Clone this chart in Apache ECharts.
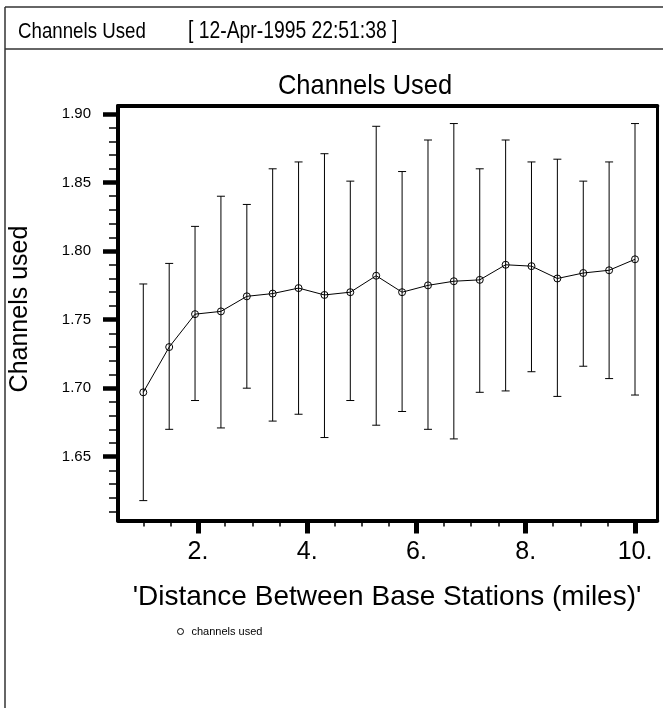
<!DOCTYPE html>
<html><head><meta charset="utf-8">
<script src="https://cdn.jsdelivr.net/npm/echarts@6/dist/echarts.min.js"></script>
<style>html,body{margin:0;padding:0;background:#fff}#c{width:663px;height:708px}</style>
</head><body><div id="c"></div>
<script>
const distance = [1.000,1.474,1.947,2.421,2.895,3.368,3.842,4.316,4.789,5.263,5.737,6.211,6.684,7.158,7.632,8.105,8.579,9.053,9.526,10.000];
const channelsUsed = [1.697,1.730,1.754,1.756,1.767,1.769,1.773,1.768,1.770,1.782,1.770,1.775,1.778,1.779,1.790,1.789,1.780,1.784,1.786,1.794];
const errUpper = [1.776,1.791,1.818,1.840,1.834,1.860,1.865,1.871,1.851,1.891,1.858,1.881,1.893,1.860,1.881,1.865,1.867,1.851,1.865,1.893];
const errLower = [1.618,1.670,1.691,1.671,1.700,1.676,1.681,1.664,1.691,1.673,1.683,1.670,1.663,1.697,1.698,1.712,1.694,1.716,1.707,1.695];
const xMajorTicks = [2,4,6,8,10];
const xMinorTicks = [1,1.5,2.5,3,3.5,4.5,5,5.5,6.5,7,7.5,8.5,9,9.5];
const yMajorTicks = [1.65,1.70,1.75,1.80,1.85,1.90];
const yMinorTicks = [1.61,1.62,1.63,1.64,1.66,1.67,1.68,1.69,1.71,1.72,1.73,1.74,1.76,1.77,1.78,1.79,1.81,1.82,1.83,1.84,1.86,1.87,1.88,1.89];
const seriesName = 'channels used';
const headerText = 'Channels Used';
const dateText = '[ 12-Apr-1995 22:51:38 ]';
const titleText = 'Channels Used';
const xTitle = "'Distance Between Base Stations (miles)'";
const yTitle = 'Channels used';

const REG = "'Liberation Sans', Arial, sans-serif";
const X_MIN = 0.537, X_MAX = 10.408, Y_MIN = 1.6035, Y_MAX = 1.9058;

const chart = echarts.init(document.getElementById('c'), null, {renderer: 'canvas'});

const points = distance.map((x, i) => [x, channelsUsed[i]]);
const bars = distance.map((x, i) => [x, errLower[i], errUpper[i]]);

function txt(x, y, text, size, align, rot, sx) {
  return {type: 'text', x: x, y: y, rotation: rot || 0, scaleX: sx || 1, silent: true,
    style: {text: text, fontSize: size, fontFamily: REG, fill: '#000',
      align: align, textAlign: align, verticalAlign: 'middle', textVerticalAlign: 'middle'}};
}
function ln(x1, y1, x2, y2, w) {
  return {type: 'line', silent: true, shape: {x1, y1, x2, y2}, style: {stroke: '#333', lineWidth: w}};
}

const baseAxis = {type: 'value', splitLine: {show: false}};

chart.setOption({
  animation: false,
  backgroundColor: '#fff',
  grid: {left: 118, top: 106, width: 539.3, height: 414.5, containLabel: false},
  xAxis: [
    Object.assign({}, baseAxis, {position: 'bottom', min: X_MIN, max: X_MAX,
      axisLine: {show: true, lineStyle: {color: '#000', width: 4}},
      axisTick: {show: true, customValues: xMajorTicks, length: 13, lineStyle: {color: '#000', width: 5}},
      axisLabel: {show: true, customValues: xMajorTicks, formatter: v => v + '.', fontSize: 25, fontFamily: REG, color: '#000', margin: 19}}),
    Object.assign({}, baseAxis, {position: 'bottom', min: X_MIN, max: X_MAX,
      axisLine: {show: false},
      axisTick: {show: true, customValues: xMinorTicks, length: 6, lineStyle: {color: '#000', width: 1.5}},
      axisLabel: {show: false}}),
    Object.assign({}, baseAxis, {position: 'top', min: X_MIN, max: X_MAX,
      axisLine: {show: true, lineStyle: {color: '#000', width: 4}},
      axisTick: {show: false}, axisLabel: {show: false}})
  ],
  yAxis: [
    Object.assign({}, baseAxis, {position: 'left', min: Y_MIN, max: Y_MAX,
      axisLine: {show: true, lineStyle: {color: '#000', width: 4}},
      axisTick: {show: true, customValues: yMajorTicks, length: 15, lineStyle: {color: '#000', width: 4.5}},
      axisLabel: {show: true, customValues: yMajorTicks, formatter: v => v.toFixed(2), fontSize: 15, fontFamily: REG, color: '#000', margin: 27}}),
    Object.assign({}, baseAxis, {position: 'left', min: Y_MIN, max: Y_MAX,
      axisLine: {show: false},
      axisTick: {show: true, customValues: yMinorTicks, length: 9, lineStyle: {color: '#000', width: 1.5}},
      axisLabel: {show: false}}),
    Object.assign({}, baseAxis, {position: 'right', min: Y_MIN, max: Y_MAX,
      axisLine: {show: true, lineStyle: {color: '#000', width: 3}},
      axisTick: {show: false}, axisLabel: {show: false}})
  ],
  legend: {
    data: [seriesName], left: 177, top: 626, padding: 0,
    itemWidth: 12, itemHeight: 6, icon: 'circle',
    itemStyle: {color: 'rgba(0,0,0,0)', borderColor: '#000', borderWidth: 1},
    textStyle: {fontSize: 11, fontFamily: REG, color: '#000'}
  },
  graphic: [
    ln(5, 7, 663, 7, 1.5),
    ln(5, 7, 5, 708, 1.5),
    ln(5, 49, 663, 49, 1.5),
    txt(18, 32, headerText, 22, 'left', 0, 0.85),
    txt(188, 32, dateText, 23, 'left', 0, 0.84),
    txt(365, 86, titleText, 28, 'center', 0, 0.91),
    txt(387, 597, xTitle, 28, 'center'),
    txt(20, 309, yTitle, 25, 'center', Math.PI / 2)
  ],
  series: [
    {
      type: 'custom', name: 'errorbars', xAxisIndex: 0, yAxisIndex: 0, z: 2,
      data: bars,
      renderItem: function (params, api) {
        const x = api.value(0);
        const pLo = api.coord([x, api.value(1)]);
        const pHi = api.coord([x, api.value(2)]);
        const hw = 4;
        const st = {stroke: '#000', lineWidth: 1};
        return {type: 'group', children: [
          {type: 'line', shape: {x1: pHi[0], y1: pHi[1], x2: pLo[0], y2: pLo[1]}, style: st},
          {type: 'line', shape: {x1: pHi[0] - hw, y1: pHi[1], x2: pHi[0] + hw, y2: pHi[1]}, style: st},
          {type: 'line', shape: {x1: pLo[0] - hw, y1: pLo[1], x2: pLo[0] + hw, y2: pLo[1]}, style: st}
        ]};
      }
    },
    {
      type: 'line', name: seriesName, xAxisIndex: 0, yAxisIndex: 0, z: 3,
      data: points, symbol: 'circle', symbolSize: 7, showSymbol: true,
      lineStyle: {color: '#000', width: 1},
      itemStyle: {color: 'rgba(0,0,0,0)', borderColor: '#000', borderWidth: 1}
    }
  ]
});
</script>
</body></html>
